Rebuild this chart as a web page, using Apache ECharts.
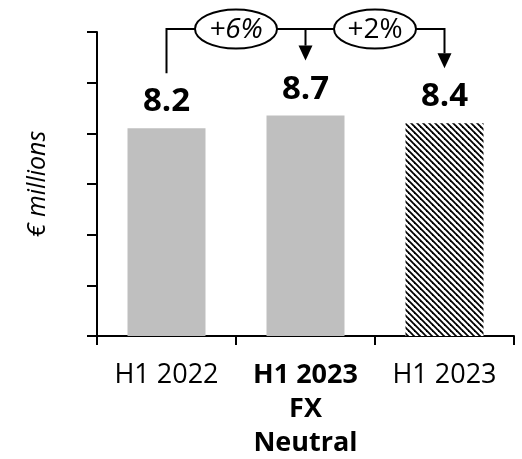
<!DOCTYPE html>
<html><head><meta charset="utf-8">
<script src="https://cdn.jsdelivr.net/npm/echarts@6/dist/echarts.min.js"></script>
<style>html,body{margin:0;padding:0;background:#fff}#c{width:522px;height:459px}</style>
</head><body><div id="c"></div>
<script>
const categories = ['H1 2022', 'H1 2023\nFX\nNeutral', 'H1 2023'];
const boldCategory = [false, true, false];
const values = [8.2, 8.7, 8.4];
const valueLabels = ['8.2', '8.7', '8.4'];
const changes = ['+6%', '+2%'];
const changeItalic = [true, false];
const yMin = 0, yMax = 12, yInterval = 2;
const yName = '€ millions';

const FONT = '"Open Sans", "Liberation Sans", sans-serif';

// hatch pattern
const P = 6;
const tile = document.createElement('canvas');
tile.width = P; tile.height = P;
const g = tile.getContext('2d');
g.fillStyle = '#fff'; g.fillRect(0, 0, P, P);
g.strokeStyle = '#000'; g.lineWidth = 1.8;
for (let k = -1; k <= 1; k++) {
  g.beginPath(); g.moveTo(-1, k * P - 1); g.lineTo(P + 1, k * P + P + 1); g.stroke();
}
const hatch = { image: tile, repeat: 'repeat' };

const chart = echarts.init(document.getElementById('c'), null, { renderer: 'canvas' });
chart.setOption({
  animation: false,
  backgroundColor: '#fff',
  grid: { left: 97, right: 8, top: 32, bottom: 123, containLabel: false, outerBoundsMode: 'none' },
  xAxis: {
    type: 'category',
    data: categories.map((c, i) => ({ value: c, textStyle: { fontWeight: boldCategory[i] ? 'bold' : 'normal' } })),
    axisLine: { lineStyle: { color: '#000', width: 2 } },
    axisTick: { show: true, length: 9, lineStyle: { color: '#000', width: 2 } },
    axisLabel: { color: '#000', fontFamily: FONT, fontSize: 27, lineHeight: 34, margin: 22, interval: 0 },
    splitLine: { show: false }
  },
  yAxis: {
    type: 'value', min: yMin, max: yMax, interval: yInterval,
    name: yName, nameLocation: 'middle', nameRotate: 90, nameGap: 47,
    nameTextStyle: { color: '#000', fontFamily: FONT, fontSize: 25, fontStyle: 'italic' },
    axisLine: { show: true, lineStyle: { color: '#000', width: 2 } },
    axisTick: { show: true, length: 10, lineStyle: { color: '#000', width: 2 } },
    axisLabel: { show: false },
    splitLine: { show: false }
  },
  series: [{
    type: 'bar',
    barWidth: 78,
    data: values.map((v, i) => ({ value: v, itemStyle: { color: i === 2 ? hatch : '#bfbfbf' } })),
    label: {
      show: true, position: 'top', distance: 10,
      formatter: p => valueLabels[p.dataIndex],
      color: '#000', fontFamily: FONT, fontWeight: 'bold', fontSize: 33
    }
  }]
});

function px(i, v) { return chart.convertToPixel({ xAxisIndex: 0, yAxisIndex: 0 }, [i, v]); }
const xs = values.map((v, i) => px(i, v)[0]);
const tops = values.map((v, i) => px(i, v)[1] - 55);
const yLine = px(0, yMax)[1] - 3;
const AH = 15, AW = 14;
const stroke = { stroke: '#000', lineWidth: 2, fill: null };
const els = [];
els.push({ type: 'polyline', shape: { points: [[xs[0], tops[0]], [xs[0], yLine], [xs[2], yLine], [xs[2], tops[2] - AH]] }, style: stroke });
els.push({ type: 'line', shape: { x1: xs[1], y1: yLine, x2: xs[1], y2: tops[1] - AH }, style: stroke });
[1, 2].forEach(i => {
  els.push({ type: 'polygon', shape: { points: [[xs[i] - AW / 2, tops[i] - AH], [xs[i] + AW / 2, tops[i] - AH], [xs[i], tops[i]]] }, style: { fill: '#000' } });
});
changes.forEach((t, k) => {
  const cx = (xs[k] + xs[k + 1]) / 2;
  els.push({ type: 'ellipse', shape: { cx: cx, cy: yLine, rx: 41, ry: 19.5 }, style: { fill: '#fff', stroke: '#000', lineWidth: 2 }, z: 10 });
  els.push({ type: 'text', x: cx, y: yLine + 1, style: { text: t, align: 'center', verticalAlign: 'middle', fontFamily: FONT, fontSize: 28, fontStyle: changeItalic[k] ? 'italic' : 'normal', fill: '#000' }, z: 11 });
});
chart.setOption({ graphic: els });
</script></body></html>
